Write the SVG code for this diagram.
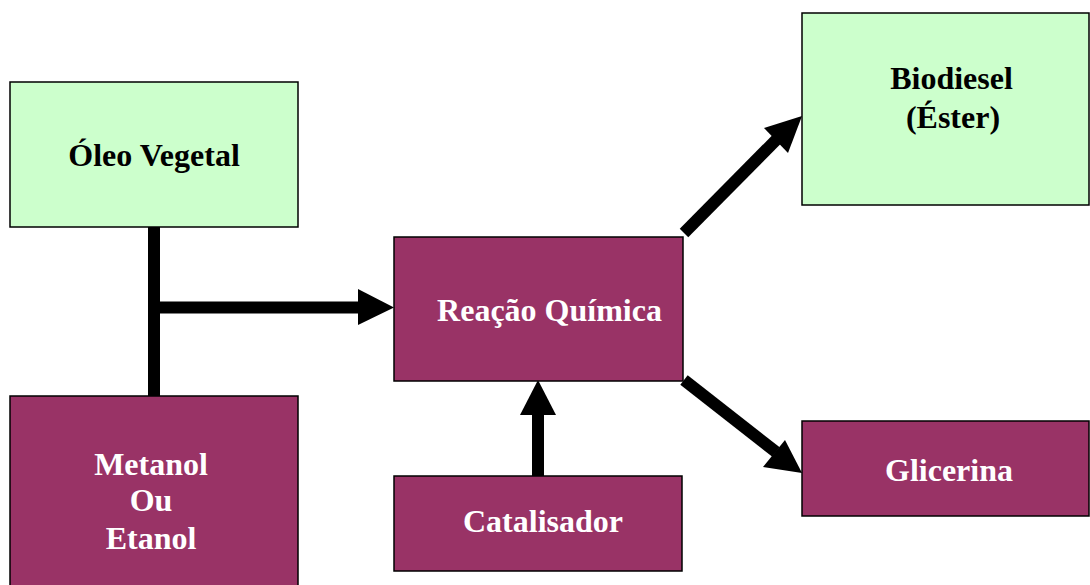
<svg xmlns="http://www.w3.org/2000/svg" width="1090" height="585" viewBox="0 0 1090 585">
<style>
.g{fill:#CCFFCC;stroke:#000;stroke-width:1.5}
.p{fill:#993366;stroke:#000;stroke-width:1.5}
text{font-family:"Liberation Serif","Times New Roman",serif;font-weight:bold;font-size:32px;text-anchor:middle}
.w{fill:#fff}
.k{fill:#000}
.c{stroke:#000;stroke-width:12;fill:none}
</style>
<rect width="1090" height="585" fill="#fff"/>
<g id="connectors">
<line class="c" x1="154" y1="227" x2="154" y2="396"/>
<line class="c" x1="160" y1="307.5" x2="360" y2="307.5"/>
<polygon points="358,289 394,307.5 358,325" fill="#000"/>
<line class="c" x1="538" y1="476" x2="538" y2="413"/>
<polygon points="520,415 538,380 556,415" fill="#000"/>
<line class="c" x1="684" y1="233" x2="778" y2="138"/>
<polygon points="764,128 802,116 788,153" fill="#000"/>
<line class="c" x1="684" y1="380" x2="776" y2="452"/>
<polygon points="785,440 802,473 763,467" fill="#000"/>
</g>
<g id="oleo">
<rect class="g" x="10" y="82" width="288" height="145"/>
<text class="k" x="154" y="166">Óleo Vegetal</text>
</g>
<g id="biodiesel">
<rect class="g" x="802" y="13" width="287" height="192"/>
<text class="k" x="951.5" y="89">Biodiesel</text>
<text class="k" x="953" y="128">(Éster)</text>
</g>
<g id="reacao">
<rect class="p" x="394" y="237" width="289" height="144"/>
<text class="w" x="549.5" y="321">Reação Química</text>
</g>
<g id="metanol">
<rect class="p" x="10" y="396" width="288" height="195"/>
<text class="w" x="151" y="475">Metanol</text>
<text class="w" x="151" y="511">Ou</text>
<text class="w" x="151" y="549">Etanol</text>
</g>
<g id="catalisador">
<rect class="p" x="394" y="476" width="288" height="95"/>
<text class="w" x="543" y="532">Catalisador</text>
</g>
<g id="glicerina">
<rect class="p" x="802" y="421" width="287" height="95"/>
<text class="w" x="949" y="481">Glicerina</text>
</g>
</svg>
